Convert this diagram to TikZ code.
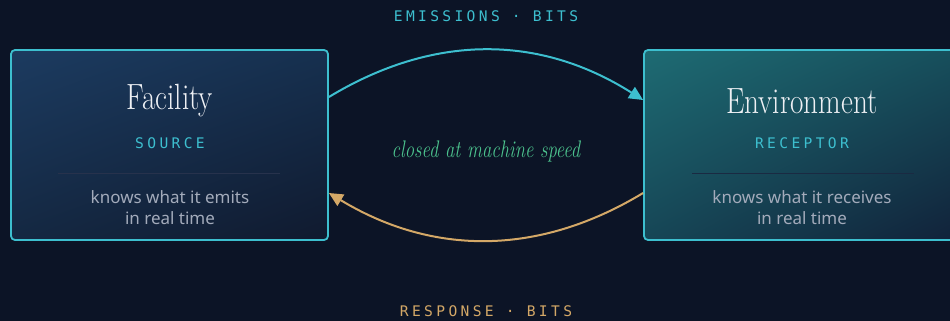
\documentclass[tikz,border=0pt]{standalone}
\usepackage{fontspec}
\usetikzlibrary{arrows.meta,shadings}
\newfontfamily\labfont[LetterSpace=23]{DejaVu Sans Mono}
\newfontfamily\bodyfont{Noto Sans}
\definecolor{bg}{HTML}{0C1426}
\definecolor{cyanc}{HTML}{3DBFCF}
\definecolor{goldc}{HTML}{D4A867}
\definecolor{greenc}{HTML}{4CC38E}
\definecolor{greyc}{HTML}{A3ABBB}
\definecolor{titlec}{HTML}{EEF0F4}
\definecolor{facUL}{HTML}{1C3B60}
\definecolor{facUR}{HTML}{16304F}
\definecolor{facLL}{HTML}{142842}
\definecolor{facLR}{HTML}{101A2F}
\definecolor{envUL}{HTML}{1E6B73}
\definecolor{envUR}{HTML}{174F5C}
\definecolor{envLL}{HTML}{164656}
\definecolor{envLR}{HTML}{11223A}
\definecolor{facdiv}{HTML}{27324C}
\definecolor{envdiv}{HTML}{1A2A42}
\tikzset{
  box/.style={draw=cyanc, line width=1.8pt, rounded corners=4pt, minimum height=190pt, inner sep=0pt},
  title/.style={text=titlec, font=\fontsize{36.5}{40}\selectfont, inner sep=0pt},
  role/.style={text=cyanc, font=\labfont\fontsize{14.6}{16}\selectfont, inner sep=0pt},
  body/.style={text=greyc, font=\bodyfont\fontsize{17}{20}\selectfont, inner sep=0pt},
  flowlab/.style={font=\labfont\fontsize{14.6}{16}\selectfont, inner sep=0pt},
  arc/.style={line width=2pt, -{Triangle[length=14pt,width=13pt]}},
  divider/.style={line width=1pt}
}
\begin{document}
\begin{tikzpicture}[x=1pt,y=-1pt]
\fill[bg] (0,0) rectangle (950,321);
\useasboundingbox (0,0) rectangle (950,321);
\begin{scope}
\clip (0,0) rectangle (950,321);
\node[box, minimum width=317pt, upper left=facUL, lower right=facLR, upper right=facUR, lower left=facLL] (fac) at (169.5,145) {};
\node[box, minimum width=312pt, upper left=envUL, lower right=envLR, upper right=envUR, lower left=envLL] (env) at (800,145) {};
\end{scope}
% texts in boxes
\node[title] (factitle) at (170,101) {\scalebox{0.8}[1]{Facility}};
\node[role] (facrole) at (170,143) {SOURCE};
\coordinate (fdl) at (58,173);
\coordinate (fdr) at (280,173);
\draw[divider, draw=facdiv] (fdl) -- (fdr);
\node[body] (facb1) at (170,197) {knows what it emits};
\node[body] (facb2) at (170,218) {in real time};
\node[title] (envtitle) at (802,101) {\scalebox{0.8}[1]{Environment}};
\node[role] (envrole) at (802,143) {RECEPTOR};
\coordinate (edl) at (692,173);
\coordinate (edr) at (914,173);
\draw[divider, draw=envdiv] (edl) -- (edr);
\node[body] (envb1) at (802,197) {knows what it receives};
\node[body] (envb2) at (802,218) {in real time};
% arcs
\draw[arc, cyanc] ([yshift=48pt]fac.east) .. controls (433,34) and (539,34) .. ([yshift=45pt]env.west);
\draw[arc, goldc] ([yshift=-48pt]env.west) .. controls (539,256) and (433,256) .. ([yshift=-48pt]fac.east);
% labels
\node[flowlab, text=cyanc] (emis) at (486,16) {EMISSIONS · BITS};
\node[flowlab, text=goldc] (resp) at (486,311) {RESPONSE · BITS};
\node[text=greenc, font=\fontsize{24}{26}\selectfont\itshape, inner sep=0pt] (speed) at (486,151) {\scalebox{0.78}[1]{closed at machine speed}};
\end{tikzpicture}
\end{document}
